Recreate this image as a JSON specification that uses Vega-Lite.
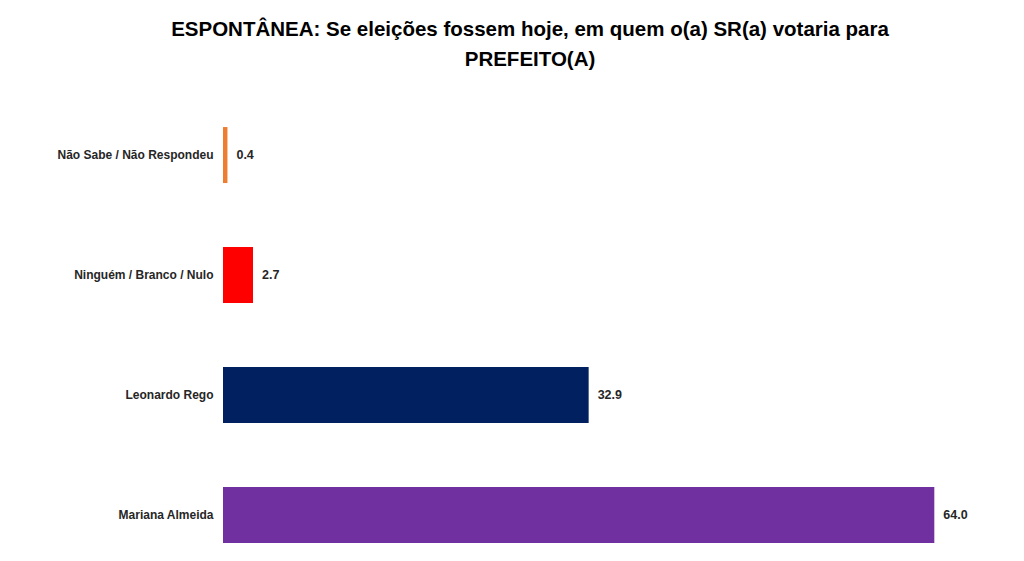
{
  "$schema": "https://vega.github.io/schema/vega-lite/v6.json",
  "width": 778,
  "height": 450,
  "autosize": {"type": "none"},
  "padding": {"left": 223, "top": 110, "right": 23, "bottom": 1},
  "background": "white",
  "config": {
    "view": {"stroke": null},
    "font": "Liberation Sans"
  },
  "title": {
    "text": ["ESPONTÂNEA: Se eleições fossem hoje, em quem o(a) SR(a) votaria para", "PREFEITO(A)"],
    "fontSize": 20.5,
    "fontWeight": "bold",
    "color": "black",
    "lineHeight": 30,
    "anchor": "middle",
    "dx": -82,
    "offset": 40
  },
  "data": {
    "values": [
      {"categoria": "Não Sabe / Não Respondeu", "valor": 0.4},
      {"categoria": "Ninguém / Branco / Nulo", "valor": 2.7},
      {"categoria": "Leonardo Rego", "valor": 32.9},
      {"categoria": "Mariana Almeida", "valor": 64.0}
    ]
  },
  "encoding": {
    "y": {
      "field": "categoria",
      "type": "nominal",
      "sort": null,
      "title": null,
      "scale": {"paddingInner": 0.533, "paddingOuter": 0.142},
      "axis": {
        "domain": false,
        "ticks": false,
        "labelFontSize": 12,
        "labelFontWeight": "bold",
        "labelColor": "#262626",
        "labelPadding": 10
      }
    },
    "x": {
      "field": "valor",
      "type": "quantitative",
      "scale": {"domain": [0, 70]},
      "axis": null
    }
  },
  "layer": [
    {
      "mark": {"type": "bar"},
      "encoding": {
        "color": {
          "field": "categoria",
          "type": "nominal",
          "scale": {
            "domain": ["Não Sabe / Não Respondeu", "Ninguém / Branco / Nulo", "Leonardo Rego", "Mariana Almeida"],
            "range": ["#ED7D31", "#FF0000", "#002060", "#7030A0"]
          },
          "legend": null
        }
      }
    },
    {
      "mark": {"type": "text", "align": "left", "dx": 9, "fontSize": 12.5, "fontWeight": "bold", "color": "#262626"},
      "encoding": {
        "text": {"field": "valor", "type": "quantitative", "format": ".1f"}
      }
    }
  ]
}
